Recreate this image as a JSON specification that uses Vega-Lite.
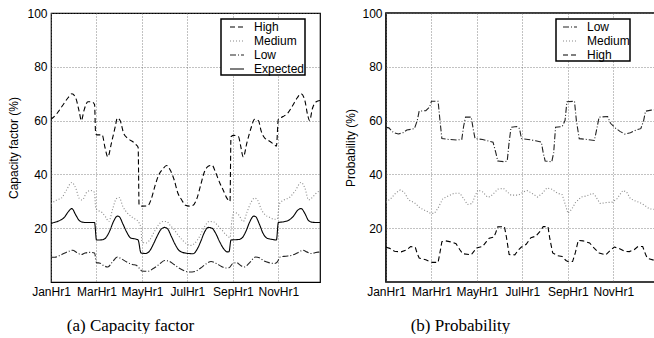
{
"$schema": "https://vega.github.io/schema/vega-lite/v6.json",
"padding": {"left": 7, "top": 6, "right": 0, "bottom": 0},
"spacing": 23,
"config": {
  "font": "Liberation Sans",
  "view": {"stroke": "black", "strokeWidth": 1.2},
  "axis": {"labelFont": "Liberation Sans", "labelFontSize": 12, "labelColor": "black", "titleFont": "Liberation Sans", "titleFontSize": 12, "titleFontWeight": "normal", "titleColor": "black", "domain": false, "ticks": false, "gridColor": "#666", "gridDash": [1, 2], "gridWidth": 0.8, "gridOpacity": 1},
  "legend": {"labelFont": "Liberation Sans", "labelFontSize": 12, "labelColor": "black", "strokeColor": "black", "strokeWidth": 1.5, "fillColor": "white", "padding": 0, "symbolType": "stroke", "symbolSize": 196, "rowPadding": -0.5, "labelOffset": 9}
},
"datasets": {
"a": [
{"s":"High","t":0,"v":60.5},{"s":"High","t":6,"v":62.5},{"s":"High","t":12,"v":65.5},{"s":"High","t":18,"v":68.5},{"s":"High","t":22,"v":70},{"s":"High","t":26,"v":68.5},{"s":"High","t":30,"v":63},{"s":"High","t":32,"v":60},{"s":"High","t":35,"v":64},{"s":"High","t":39,"v":67},{"s":"High","t":43,"v":67},{"s":"High","t":46,"v":66},{"s":"High","t":47,"v":56},{"s":"High","t":48,"v":54.7},{"s":"High","t":54,"v":54.7},{"s":"High","t":57,"v":50},{"s":"High","t":60,"v":46.5},{"s":"High","t":64,"v":52},{"s":"High","t":68,"v":58},{"s":"High","t":70,"v":61},{"s":"High","t":73,"v":60},{"s":"High","t":77,"v":55},{"s":"High","t":82,"v":53.2},{"s":"High","t":90,"v":51},{"s":"High","t":92,"v":50},{"s":"High","t":93,"v":28.5},{"s":"High","t":96,"v":28.2},{"s":"High","t":102,"v":28.3},{"s":"High","t":106,"v":31},{"s":"High","t":110,"v":36},{"s":"High","t":114,"v":40},{"s":"High","t":118,"v":42},{"s":"High","t":122,"v":43.3},{"s":"High","t":126,"v":41.5},{"s":"High","t":130,"v":38},{"s":"High","t":134,"v":33},{"s":"High","t":138,"v":30.5},{"s":"High","t":142,"v":28.5},{"s":"High","t":146,"v":28.2},{"s":"High","t":150,"v":28.5},{"s":"High","t":154,"v":31},{"s":"High","t":158,"v":36},{"s":"High","t":162,"v":41},{"s":"High","t":166,"v":43},{"s":"High","t":170,"v":43.4},{"s":"High","t":174,"v":40.5},{"s":"High","t":178,"v":37},{"s":"High","t":182,"v":34},{"s":"High","t":186,"v":31},{"s":"High","t":189,"v":30},{"s":"High","t":190,"v":54},{"s":"High","t":193,"v":54.5},{"s":"High","t":198,"v":54},{"s":"High","t":200,"v":51},{"s":"High","t":203,"v":46.5},{"s":"High","t":207,"v":52},{"s":"High","t":211,"v":57},{"s":"High","t":215,"v":60.5},{"s":"High","t":219,"v":60},{"s":"High","t":222,"v":56},{"s":"High","t":225,"v":53.8},{"s":"High","t":230,"v":52.5},{"s":"High","t":236,"v":51},{"s":"High","t":238,"v":50.5},{"s":"High","t":240,"v":60.5},{"s":"High","t":245,"v":61.5},{"s":"High","t":250,"v":62.8},{"s":"High","t":255,"v":65.5},{"s":"High","t":260,"v":68.5},{"s":"High","t":264,"v":70},{"s":"High","t":268,"v":67.5},{"s":"High","t":271,"v":62},{"s":"High","t":273,"v":60},{"s":"High","t":276,"v":64.5},{"s":"High","t":280,"v":67},{"s":"High","t":284,"v":67.5},
{"s":"Medium","t":0,"v":29},{"s":"Medium","t":6,"v":30.5},{"s":"Medium","t":11,"v":31.2},{"s":"Medium","t":16,"v":34},{"s":"Medium","t":22,"v":37},{"s":"Medium","t":26,"v":35},{"s":"Medium","t":30,"v":31},{"s":"Medium","t":33,"v":30.5},{"s":"Medium","t":38,"v":33.5},{"s":"Medium","t":42,"v":34},{"s":"Medium","t":46,"v":33.3},{"s":"Medium","t":47,"v":28},{"s":"Medium","t":48,"v":27},{"s":"Medium","t":54,"v":25.8},{"s":"Medium","t":58,"v":24},{"s":"Medium","t":61,"v":22.5},{"s":"Medium","t":65,"v":27},{"s":"Medium","t":69,"v":31},{"s":"Medium","t":72,"v":31.4},{"s":"Medium","t":76,"v":28},{"s":"Medium","t":81,"v":25.5},{"s":"Medium","t":86,"v":24},{"s":"Medium","t":92,"v":22.5},{"s":"Medium","t":95,"v":20},{"s":"Medium","t":96,"v":15},{"s":"Medium","t":100,"v":14.5},{"s":"Medium","t":104,"v":15.5},{"s":"Medium","t":108,"v":18},{"s":"Medium","t":113,"v":21},{"s":"Medium","t":118,"v":22.5},{"s":"Medium","t":122,"v":22.5},{"s":"Medium","t":126,"v":21},{"s":"Medium","t":130,"v":19.5},{"s":"Medium","t":134,"v":17.5},{"s":"Medium","t":139,"v":15.5},{"s":"Medium","t":144,"v":14},{"s":"Medium","t":148,"v":13.6},{"s":"Medium","t":152,"v":14.5},{"s":"Medium","t":157,"v":17},{"s":"Medium","t":162,"v":20.5},{"s":"Medium","t":167,"v":22.5},{"s":"Medium","t":172,"v":22.3},{"s":"Medium","t":176,"v":21},{"s":"Medium","t":180,"v":19.5},{"s":"Medium","t":185,"v":17.5},{"s":"Medium","t":189,"v":16.5},{"s":"Medium","t":191,"v":23},{"s":"Medium","t":193,"v":26},{"s":"Medium","t":198,"v":25},{"s":"Medium","t":203,"v":22.5},{"s":"Medium","t":207,"v":26},{"s":"Medium","t":211,"v":29.5},{"s":"Medium","t":215,"v":31.2},{"s":"Medium","t":218,"v":30.5},{"s":"Medium","t":222,"v":27},{"s":"Medium","t":226,"v":25},{"s":"Medium","t":231,"v":24},{"s":"Medium","t":236,"v":23.3},{"s":"Medium","t":239,"v":23.5},{"s":"Medium","t":241,"v":29},{"s":"Medium","t":246,"v":30.5},{"s":"Medium","t":252,"v":31.5},{"s":"Medium","t":258,"v":34},{"s":"Medium","t":264,"v":37},{"s":"Medium","t":268,"v":35},{"s":"Medium","t":272,"v":30.5},{"s":"Medium","t":276,"v":31.5},{"s":"Medium","t":280,"v":33},{"s":"Medium","t":284,"v":34},
{"s":"Low","t":0,"v":9.2},{"s":"Low","t":4,"v":9.2},{"s":"Low","t":10,"v":10},{"s":"Low","t":16,"v":11},{"s":"Low","t":23,"v":11.8},{"s":"Low","t":27,"v":11},{"s":"Low","t":32,"v":10.2},{"s":"Low","t":36,"v":10.8},{"s":"Low","t":41,"v":11},{"s":"Low","t":46,"v":10.8},{"s":"Low","t":48,"v":7.2},{"s":"Low","t":52,"v":7},{"s":"Low","t":56,"v":6},{"s":"Low","t":60,"v":5.6},{"s":"Low","t":65,"v":7.5},{"s":"Low","t":70,"v":9.3},{"s":"Low","t":74,"v":8.7},{"s":"Low","t":80,"v":7.4},{"s":"Low","t":86,"v":6.5},{"s":"Low","t":90,"v":6.2},{"s":"Low","t":94,"v":4.8},{"s":"Low","t":96,"v":4.1},{"s":"Low","t":102,"v":4},{"s":"Low","t":108,"v":5},{"s":"Low","t":114,"v":6.5},{"s":"Low","t":120,"v":8},{"s":"Low","t":124,"v":7.8},{"s":"Low","t":130,"v":6.5},{"s":"Low","t":136,"v":5},{"s":"Low","t":142,"v":4},{"s":"Low","t":146,"v":3.7},{"s":"Low","t":152,"v":3.9},{"s":"Low","t":158,"v":5.2},{"s":"Low","t":164,"v":6.8},{"s":"Low","t":169,"v":7.6},{"s":"Low","t":174,"v":7},{"s":"Low","t":180,"v":5.8},{"s":"Low","t":184,"v":5.2},{"s":"Low","t":188,"v":5.3},{"s":"Low","t":192,"v":6.9},{"s":"Low","t":196,"v":7.2},{"s":"Low","t":200,"v":6.2},{"s":"Low","t":204,"v":5.6},{"s":"Low","t":210,"v":7.3},{"s":"Low","t":216,"v":9.3},{"s":"Low","t":220,"v":9},{"s":"Low","t":225,"v":7.8},{"s":"Low","t":230,"v":7.2},{"s":"Low","t":236,"v":6.9},{"s":"Low","t":239,"v":7.5},{"s":"Low","t":242,"v":9.3},{"s":"Low","t":248,"v":9.6},{"s":"Low","t":254,"v":9.9},{"s":"Low","t":260,"v":10.8},{"s":"Low","t":266,"v":11.8},{"s":"Low","t":270,"v":11.2},{"s":"Low","t":274,"v":10.6},{"s":"Low","t":278,"v":10.8},{"s":"Low","t":282,"v":11.1},{"s":"Low","t":284,"v":11.1},
{"s":"Expected","t":0,"v":21.8},{"s":"Expected","t":4,"v":22.2},{"s":"Expected","t":10,"v":23},{"s":"Expected","t":14,"v":24},{"s":"Expected","t":18,"v":26},{"s":"Expected","t":22,"v":27.3},{"s":"Expected","t":26,"v":25},{"s":"Expected","t":30,"v":22.8},{"s":"Expected","t":34,"v":22.2},{"s":"Expected","t":40,"v":22.1},{"s":"Expected","t":46,"v":22.1},{"s":"Expected","t":48,"v":15.6},{"s":"Expected","t":54,"v":15.7},{"s":"Expected","t":58,"v":16.5},{"s":"Expected","t":62,"v":19},{"s":"Expected","t":66,"v":22.5},{"s":"Expected","t":70,"v":24.5},{"s":"Expected","t":72,"v":24.3},{"s":"Expected","t":76,"v":21.5},{"s":"Expected","t":80,"v":18.5},{"s":"Expected","t":84,"v":16.4},{"s":"Expected","t":91,"v":15.8},{"s":"Expected","t":92,"v":15.6},{"s":"Expected","t":95,"v":10.8},{"s":"Expected","t":100,"v":10.6},{"s":"Expected","t":104,"v":11.5},{"s":"Expected","t":108,"v":14},{"s":"Expected","t":112,"v":17},{"s":"Expected","t":116,"v":19.5},{"s":"Expected","t":120,"v":20.3},{"s":"Expected","t":123,"v":19.8},{"s":"Expected","t":127,"v":17},{"s":"Expected","t":131,"v":14},{"s":"Expected","t":135,"v":11.8},{"s":"Expected","t":139,"v":11},{"s":"Expected","t":143,"v":10.7},{"s":"Expected","t":150,"v":10.5},{"s":"Expected","t":154,"v":12},{"s":"Expected","t":158,"v":15},{"s":"Expected","t":162,"v":18.5},{"s":"Expected","t":166,"v":20.3},{"s":"Expected","t":170,"v":20},{"s":"Expected","t":174,"v":18},{"s":"Expected","t":178,"v":15},{"s":"Expected","t":182,"v":12.5},{"s":"Expected","t":186,"v":11.2},{"s":"Expected","t":188,"v":11.3},{"s":"Expected","t":190,"v":15.6},{"s":"Expected","t":198,"v":15.8},{"s":"Expected","t":202,"v":16.5},{"s":"Expected","t":206,"v":19},{"s":"Expected","t":210,"v":22.5},{"s":"Expected","t":214,"v":24.5},{"s":"Expected","t":216,"v":24.3},{"s":"Expected","t":220,"v":21.5},{"s":"Expected","t":224,"v":18},{"s":"Expected","t":228,"v":16.3},{"s":"Expected","t":234,"v":15.8},{"s":"Expected","t":238,"v":15.6},{"s":"Expected","t":240,"v":22.1},{"s":"Expected","t":246,"v":22.4},{"s":"Expected","t":252,"v":23.2},{"s":"Expected","t":256,"v":24.5},{"s":"Expected","t":260,"v":26.5},{"s":"Expected","t":264,"v":27.3},{"s":"Expected","t":268,"v":25.5},{"s":"Expected","t":272,"v":22.8},{"s":"Expected","t":276,"v":22.2},{"s":"Expected","t":284,"v":22.1}
],
"b": [
{"s":"Low","t":0,"v":57.5},{"s":"Low","t":3,"v":57.3},{"s":"Low","t":8,"v":55.5},{"s":"Low","t":13,"v":55},{"s":"Low","t":18,"v":55.5},{"s":"Low","t":22,"v":56.5},{"s":"Low","t":30,"v":57},{"s":"Low","t":33,"v":60},{"s":"Low","t":35,"v":63.5},{"s":"Low","t":42,"v":63.7},{"s":"Low","t":46,"v":65},{"s":"Low","t":48,"v":67.2},{"s":"Low","t":55,"v":67.2},{"s":"Low","t":57,"v":60},{"s":"Low","t":59,"v":53.3},{"s":"Low","t":66,"v":53},{"s":"Low","t":75,"v":52.8},{"s":"Low","t":80,"v":53},{"s":"Low","t":82,"v":58},{"s":"Low","t":84,"v":61.3},{"s":"Low","t":90,"v":61.3},{"s":"Low","t":92,"v":57},{"s":"Low","t":94,"v":53.3},{"s":"Low","t":102,"v":53},{"s":"Low","t":107,"v":52.5},{"s":"Low","t":113,"v":52},{"s":"Low","t":116,"v":48},{"s":"Low","t":118,"v":45},{"s":"Low","t":125,"v":44.7},{"s":"Low","t":128,"v":45},{"s":"Low","t":130,"v":52},{"s":"Low","t":132,"v":57.5},{"s":"Low","t":138,"v":57.8},{"s":"Low","t":141,"v":57},{"s":"Low","t":143,"v":53.3},{"s":"Low","t":150,"v":53},{"s":"Low","t":158,"v":52.5},{"s":"Low","t":164,"v":52},{"s":"Low","t":166,"v":48},{"s":"Low","t":168,"v":45},{"s":"Low","t":175,"v":44.7},{"s":"Low","t":177,"v":48},{"s":"Low","t":179,"v":57.5},{"s":"Low","t":186,"v":57.8},{"s":"Low","t":189,"v":60},{"s":"Low","t":191,"v":67},{"s":"Low","t":199,"v":67.2},{"s":"Low","t":201,"v":60},{"s":"Low","t":204,"v":53.3},{"s":"Low","t":212,"v":53},{"s":"Low","t":220,"v":52.6},{"s":"Low","t":222,"v":56},{"s":"Low","t":225,"v":61.3},{"s":"Low","t":234,"v":61.5},{"s":"Low","t":237,"v":59},{"s":"Low","t":242,"v":57.3},{"s":"Low","t":247,"v":56},{"s":"Low","t":252,"v":55},{"s":"Low","t":258,"v":55.5},{"s":"Low","t":264,"v":56.5},{"s":"Low","t":269,"v":57},{"s":"Low","t":272,"v":60},{"s":"Low","t":274,"v":63.5},{"s":"Low","t":280,"v":63.9},{"s":"Low","t":284,"v":64},
{"s":"Medium","t":0,"v":29.7},{"s":"Medium","t":5,"v":31},{"s":"Medium","t":10,"v":33},{"s":"Medium","t":15,"v":34.2},{"s":"Medium","t":19,"v":33.5},{"s":"Medium","t":24,"v":30.5},{"s":"Medium","t":30,"v":29.5},{"s":"Medium","t":36,"v":27.5},{"s":"Medium","t":42,"v":26.5},{"s":"Medium","t":47,"v":25.5},{"s":"Medium","t":51,"v":25.5},{"s":"Medium","t":55,"v":27.5},{"s":"Medium","t":60,"v":31},{"s":"Medium","t":66,"v":32},{"s":"Medium","t":72,"v":33},{"s":"Medium","t":78,"v":33},{"s":"Medium","t":82,"v":31},{"s":"Medium","t":86,"v":28.8},{"s":"Medium","t":91,"v":29.2},{"s":"Medium","t":94,"v":32},{"s":"Medium","t":97,"v":34.2},{"s":"Medium","t":102,"v":33.5},{"s":"Medium","t":107,"v":31.6},{"s":"Medium","t":110,"v":31.7},{"s":"Medium","t":114,"v":33},{"s":"Medium","t":118,"v":34.5},{"s":"Medium","t":124,"v":34.8},{"s":"Medium","t":128,"v":33.5},{"s":"Medium","t":132,"v":32.3},{"s":"Medium","t":140,"v":32.3},{"s":"Medium","t":145,"v":33.5},{"s":"Medium","t":149,"v":34},{"s":"Medium","t":154,"v":33},{"s":"Medium","t":160,"v":31.6},{"s":"Medium","t":165,"v":33},{"s":"Medium","t":170,"v":35},{"s":"Medium","t":175,"v":34.5},{"s":"Medium","t":181,"v":33},{"s":"Medium","t":186,"v":32.5},{"s":"Medium","t":190,"v":28},{"s":"Medium","t":192,"v":25.5},{"s":"Medium","t":196,"v":27},{"s":"Medium","t":200,"v":29.5},{"s":"Medium","t":206,"v":31.6},{"s":"Medium","t":212,"v":32},{"s":"Medium","t":218,"v":33},{"s":"Medium","t":221,"v":32},{"s":"Medium","t":226,"v":29.2},{"s":"Medium","t":232,"v":29.5},{"s":"Medium","t":239,"v":29.7},{"s":"Medium","t":244,"v":31},{"s":"Medium","t":250,"v":34},{"s":"Medium","t":254,"v":33.5},{"s":"Medium","t":258,"v":31},{"s":"Medium","t":262,"v":30.3},{"s":"Medium","t":268,"v":29.5},{"s":"Medium","t":273,"v":28.5},{"s":"Medium","t":278,"v":27.2},{"s":"Medium","t":284,"v":27},
{"s":"High","t":0,"v":12.9},{"s":"High","t":4,"v":12.5},{"s":"High","t":9,"v":11.4},{"s":"High","t":16,"v":11.2},{"s":"High","t":22,"v":12},{"s":"High","t":26,"v":13.2},{"s":"High","t":31,"v":12.8},{"s":"High","t":33,"v":10.5},{"s":"High","t":35,"v":8.9},{"s":"High","t":42,"v":8.3},{"s":"High","t":47,"v":7.5},{"s":"High","t":49,"v":7.3},{"s":"High","t":55,"v":7.3},{"s":"High","t":57,"v":11},{"s":"High","t":59,"v":15},{"s":"High","t":63,"v":15.3},{"s":"High","t":70,"v":14.8},{"s":"High","t":74,"v":14.2},{"s":"High","t":78,"v":12},{"s":"High","t":81,"v":10.5},{"s":"High","t":90,"v":10.1},{"s":"High","t":93,"v":11.5},{"s":"High","t":95,"v":12.6},{"s":"High","t":102,"v":13.2},{"s":"High","t":106,"v":15},{"s":"High","t":109,"v":16.3},{"s":"High","t":114,"v":16.7},{"s":"High","t":116,"v":18.5},{"s":"High","t":118,"v":20.5},{"s":"High","t":125,"v":20.6},{"s":"High","t":127,"v":17},{"s":"High","t":130,"v":10.2},{"s":"High","t":136,"v":10.1},{"s":"High","t":140,"v":12},{"s":"High","t":143,"v":13},{"s":"High","t":148,"v":14},{"s":"High","t":153,"v":16.5},{"s":"High","t":158,"v":17},{"s":"High","t":163,"v":19},{"s":"High","t":166,"v":20.6},{"s":"High","t":171,"v":20.6},{"s":"High","t":173,"v":16},{"s":"High","t":176,"v":10.8},{"s":"High","t":181,"v":9.8},{"s":"High","t":186,"v":9.5},{"s":"High","t":190,"v":8},{"s":"High","t":192,"v":7.6},{"s":"High","t":197,"v":7.6},{"s":"High","t":200,"v":11},{"s":"High","t":203,"v":15.5},{"s":"High","t":208,"v":15.3},{"s":"High","t":215,"v":14.5},{"s":"High","t":220,"v":12.5},{"s":"High","t":225,"v":10.8},{"s":"High","t":232,"v":10.1},{"s":"High","t":236,"v":11.5},{"s":"High","t":241,"v":13},{"s":"High","t":246,"v":12.5},{"s":"High","t":252,"v":11.4},{"s":"High","t":257,"v":11.3},{"s":"High","t":262,"v":12},{"s":"High","t":266,"v":13.2},{"s":"High","t":271,"v":13.2},{"s":"High","t":274,"v":10.3},{"s":"High","t":276,"v":8.8},{"s":"High","t":284,"v":8}
]
},
"hconcat": [
{
 "width": 269, "height": 269,
 "data": {"name": "a"},
 "mark": {"type": "line", "interpolate": "monotone", "clip": true},
 "encoding": {
  "x": {"field": "t", "type": "quantitative", "scale": {"domain": [0, 284], "nice": false, "zero": false},
        "axis": {"values": [0, 48, 96, 144, 192, 240], "labelExpr": "['JanHr1','MarHr1','MayHr1','JulHr1','SepHr1','NovHr1'][round(datum.value/48)]", "labelFlush": false, "labelPadding": 4, "title": "(a)  Capacity factor", "titleFont": "Liberation Serif", "titleFontSize": 17, "titleX": 79, "titleY": 43, "titleAlign": "center", "titleBaseline": "middle"}},
  "y": {"field": "v", "type": "quantitative", "scale": {"domain": [0, 100], "nice": false}, "axis": {"values": [20, 40, 60, 80, 100], "title": "Capacity factor (%)", "labelPadding": 4, "titlePadding": 6}},
  "color": {"field": "s", "type": "nominal", "scale": {"domain": ["High", "Medium", "Low", "Expected"], "range": ["black", "#888888", "#222222", "black"]}, "legend": {"orient": "none", "legendX": 170, "legendY": 6, "title": null, "symbolOffset": 8}},
  "strokeDash": {"field": "s", "type": "nominal", "scale": {"domain": ["High", "Medium", "Low", "Expected"], "range": [[5, 3], [1, 2], [6, 2, 1, 2], [1, 0]]}, "legend": {"orient": "none", "legendX": 170, "legendY": 6, "title": null, "symbolOffset": 8}},
  "strokeWidth": {"field": "s", "type": "nominal", "scale": {"domain": ["High", "Medium", "Low", "Expected"], "range": [1.1, 1.1, 1.1, 2]}, "legend": {"orient": "none", "legendX": 170, "legendY": 6, "title": null, "symbolOffset": 8}}
 }
},
{
 "width": 269, "height": 269,
 "view": {"stroke": "black", "strokeWidth": 1.7},
 "data": {"name": "b"},
 "mark": {"type": "line", "clip": true, "strokeWidth": 1.1},
 "encoding": {
  "x": {"field": "t", "type": "quantitative", "scale": {"domain": [0, 284], "nice": false, "zero": false},
        "axis": {"values": [0, 48, 96, 144, 192, 240], "labelExpr": "['JanHr1','MarHr1','MayHr1','JulHr1','SepHr1','NovHr1'][round(datum.value/48)]", "labelFlush": false, "labelPadding": 4, "title": "(b)  Probability", "titleFont": "Liberation Serif", "titleFontSize": 17, "titleX": 74, "titleY": 43, "titleAlign": "center", "titleBaseline": "middle"}},
  "y": {"field": "v", "type": "quantitative", "scale": {"domain": [0, 100], "nice": false}, "axis": {"values": [20, 40, 60, 80, 100], "title": "Probability (%)", "labelPadding": 4, "titlePadding": 4}},
  "color": {"field": "s", "type": "nominal", "scale": {"domain": ["Low", "Medium", "High"], "range": ["#222222", "#888888", "black"]}, "legend": {"orient": "none", "legendX": 170, "legendY": 6, "title": null, "symbolOffset": 6, "symbolStrokeWidth": 1.1}},
  "strokeDash": {"field": "s", "type": "nominal", "scale": {"domain": ["Low", "Medium", "High"], "range": [[6, 2, 1, 2], [1, 2], [5, 3]]}, "legend": {"orient": "none", "legendX": 170, "legendY": 6, "title": null, "symbolOffset": 6, "symbolStrokeWidth": 1.1}}
 }
}
],
"resolve": {"scale": {"color": "independent", "strokeDash": "independent", "strokeWidth": "independent"}, "legend": {"color": "independent", "strokeDash": "independent"}}
}
